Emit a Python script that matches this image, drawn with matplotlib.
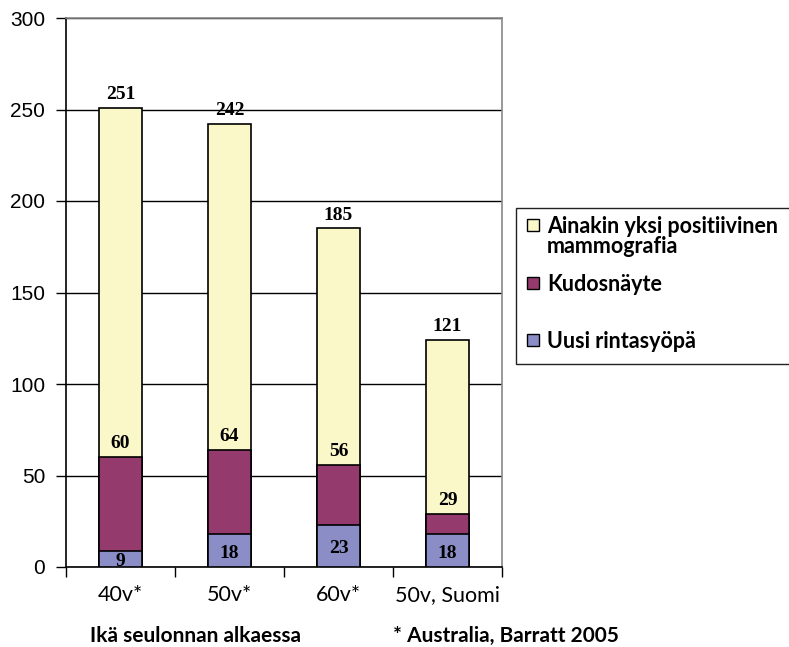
import matplotlib
matplotlib.use("Agg")
import matplotlib.pyplot as plt
from matplotlib.patches import Rectangle
from matplotlib import font_manager

categories = ['40v*', '50v*', '60v*', '50v, Suomi']
positive = [251, 242, 185, 124]
positive_labels = ['251', '242', '185', '121']
biopsy = [60, 64, 56, 29]
cancer = [9, 18, 23, 18]
series_names = ['Ainakin yksi positiivinen\nmammografia', 'Kudosnäyte', 'Uusi rintasyöpä']
yticks = [0, 50, 100, 150, 200, 250, 300]

c_yellow = '#FAF7C9'
c_purple = '#953A6D'
c_blue = '#8B8EC6'

def pick(names):
    avail = {f.name for f in font_manager.fontManager.ttflist}
    for n in names:
        if n in avail:
            return n
    return 'DejaVu Sans'

f_tick_x = pick(['Lato', 'Open Sans'])
f_bold = pick(['Lato', 'Open Sans'])
f_y = pick(['Liberation Sans', 'DejaVu Sans'])
f_val = pick(['Liberation Serif', 'DejaVu Serif'])

fig = plt.figure(figsize=(7.89, 6.47), dpi=100)
ax = fig.add_axes([66/789, 1-567/647, (502-66)/789, (567-18)/647])

x = list(range(len(categories)))
w = 0.40
ax.bar(x, positive, width=w, color=c_yellow, edgecolor='black', linewidth=1.2, zorder=2)
ax.bar(x, biopsy, width=w, color=c_purple, edgecolor='black', linewidth=1.2, zorder=3)
ax.bar(x, cancer, width=w, color=c_blue, edgecolor='black', linewidth=1.2, zorder=4)

ax.set_xlim(-0.5, len(categories) - 0.5)
ax.set_ylim(0, 300)
ax.set_yticks(yticks)
ax.set_yticklabels([str(v) for v in yticks], fontfamily=f_y, fontsize=15)
ax.yaxis.grid(True, color='black', linewidth=1.0, zorder=1)
ax.set_axisbelow(True)

ax.set_xticks([i + 0.5 for i in range(-1, len(categories))])
ax.set_xticklabels([])
ax.set_xticks(x, minor=True)
ax.set_xticklabels(categories, minor=True, fontfamily=f_tick_x, fontsize=15.5)
ax.tick_params(axis='x', which='major', direction='out', length=7, width=1)
ax.tick_params(axis='x', which='minor', length=0, pad=13)
ax.tick_params(axis='y', direction='out', length=7, width=1, pad=8)

for s in ['top', 'right']:
    ax.spines[s].set_color('#888888')
    ax.spines[s].set_linewidth(1.2)
for s in ['left', 'bottom']:
    ax.spines[s].set_color('black')
    ax.spines[s].set_linewidth(1.2)

vfont = dict(fontfamily=f_val, fontweight='bold', fontsize=14, ha='center')
for i in x:
    ax.annotate(positive_labels[i], (i, positive[i]), xytext=(0, 3.5), textcoords='offset points',
                va='bottom', zorder=6, **vfont)
    ax.annotate(str(biopsy[i]), (i, biopsy[i]), xytext=(0, 3.5), textcoords='offset points',
                va='bottom', zorder=6, **vfont)
    t = ax.annotate(str(cancer[i]), (i, cancer[i] / 2), xytext=(0, -2), textcoords='offset points',
                    va='center', zorder=6, annotation_clip=False, **vfont)
    t.set_clip_on(True)

# Legend (manual, box runs off the right edge)
fig.add_artist(Rectangle((516/789, 1-364/647), 300/789, (364-208)/647, transform=fig.transFigure,
                         facecolor='white', edgecolor='#222222', linewidth=1.0))
leg_y = [225, 283, 340]
cols = [c_yellow, c_purple, c_blue]
for yy, col, name in zip(leg_y, cols, series_names):
    fig.add_artist(Rectangle((527/789, 1-(yy+6)/647), 12/789, 12/647, transform=fig.transFigure,
                             facecolor=col, edgecolor='black', linewidth=1.0))
    fig.text(547/789, 1-(yy-9)/647, name, fontfamily=f_bold, fontweight='bold', fontsize=15.5,
             ha='left', va='top', linespacing=0.92)

fig.text(90/789, 1-636/647, 'Ikä seulonnan alkaessa', fontfamily=f_bold, fontweight='bold',
         fontsize=15, ha='left', va='center')
fig.text(393/789, 1-636/647, '* Australia, Barratt 2005', fontfamily=f_bold, fontweight='bold',
         fontsize=15, ha='left', va='center')

fig.savefig('out.png', dpi=100)
